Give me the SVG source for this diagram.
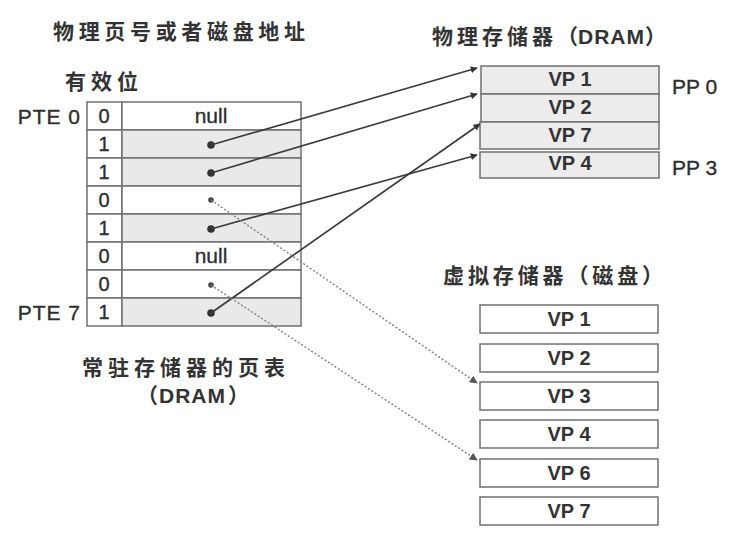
<svg xmlns="http://www.w3.org/2000/svg" width="742" height="537" viewBox="0 0 742 537">
<defs>
<style>
.cjk{font-family:"Noto Sans CJK SC","Noto Sans",sans-serif;font-size:21px;fill:#333;font-weight:bold}
.lat{font-family:"Liberation Sans",Arial,sans-serif;font-size:20px;fill:#2e2e2e;stroke:#2e2e2e;stroke-width:0.35}
.big{font-size:21px}
.lb{font-family:"Liberation Sans",Arial,sans-serif;font-weight:bold}
.vp{font-family:"Liberation Sans",Arial,sans-serif;font-size:20px;fill:#333;text-anchor:middle;font-weight:bold}
.cell{fill:#fff;stroke:#707070;stroke-width:1.5}
.shade{fill:#e9e9e9;stroke:#707070;stroke-width:1.5}
.mem{fill:#ececec;stroke:#707070;stroke-width:1.5}
.disk{fill:#fff;stroke:#707070;stroke-width:1.5}
.ptr{stroke:#3c3c3c;stroke-width:1.7;fill:none}
.dptr{stroke:#808080;stroke-width:1.4;fill:none;stroke-dasharray:2 2}
</style>
<marker id="ah" viewBox="0 0 10 10" refX="9" refY="5" markerWidth="7" markerHeight="7" orient="auto" markerUnits="userSpaceOnUse"><path d="M0,0 L10,5 L0,10 z" fill="#333"/></marker>
<marker id="ahd" viewBox="0 0 10 10" refX="9" refY="5" markerWidth="8" markerHeight="8" orient="auto" markerUnits="userSpaceOnUse"><path d="M0,0 L10,5 L0,10 z" fill="#555"/></marker>
</defs>
<rect width="742" height="537" fill="#fff"/>

<g id="labels">
<text class="cjk" x="53" y="39" textLength="252" lengthAdjust="spacing">物理页号或者磁盘地址</text>
<text class="cjk" x="65" y="89" textLength="73" lengthAdjust="spacing">有效位</text>
<text class="cjk" x="82" y="375" textLength="203" lengthAdjust="spacing">常驻存储器的页表</text>
<text class="cjk" x="137" y="403">（<tspan class="lb" x="159" letter-spacing="1">DRAM</tspan><tspan x="228">）</tspan></text>
<text class="cjk" x="432" y="44"><tspan letter-spacing="4">物理存储器</tspan>（<tspan class="lb" letter-spacing="1">DRAM</tspan>）</text>
<text class="cjk" x="443" y="283" textLength="220" lengthAdjust="spacing">虚拟存储器（磁盘）</text>
<text class="lat big" x="81" y="123.5" text-anchor="end" letter-spacing="1">PTE 0</text>
<text class="lat big" x="81" y="319.5" text-anchor="end" letter-spacing="1">PTE 7</text>
</g>

<g id="page-table">
<g id="pte0"><rect class="cell" x="87" y="102" width="35" height="28"/><rect class="cell" x="122" y="102" width="179" height="28"/><text class="lat" x="104" y="123" text-anchor="middle">0</text><text class="lat big" x="211" y="123" text-anchor="middle">null</text></g>
<g id="pte1"><rect class="cell" x="87" y="130" width="35" height="28"/><rect class="shade" x="122" y="130" width="179" height="28"/><text class="lat" x="104" y="151" text-anchor="middle">1</text><circle cx="211" cy="145" r="3.8" fill="#333"/></g>
<g id="pte2"><rect class="cell" x="87" y="158" width="35" height="28"/><rect class="shade" x="122" y="158" width="179" height="28"/><text class="lat" x="104" y="179" text-anchor="middle">1</text><circle cx="211" cy="173" r="3.8" fill="#333"/></g>
<g id="pte3"><rect class="cell" x="87" y="186" width="35" height="28"/><rect class="cell" x="122" y="186" width="179" height="28"/><text class="lat" x="104" y="207" text-anchor="middle">0</text><circle cx="211" cy="200" r="2.8" fill="#444"/></g>
<g id="pte4"><rect class="cell" x="87" y="214" width="35" height="28"/><rect class="shade" x="122" y="214" width="179" height="28"/><text class="lat" x="104" y="235" text-anchor="middle">1</text><circle cx="211" cy="229" r="3.8" fill="#333"/></g>
<g id="pte5"><rect class="cell" x="87" y="242" width="35" height="28"/><rect class="cell" x="122" y="242" width="179" height="28"/><text class="lat" x="104" y="263" text-anchor="middle">0</text><text class="lat big" x="211" y="263" text-anchor="middle">null</text></g>
<g id="pte6"><rect class="cell" x="87" y="270" width="35" height="28"/><rect class="cell" x="122" y="270" width="179" height="28"/><text class="lat" x="104" y="291" text-anchor="middle">0</text><circle cx="211" cy="285" r="2.8" fill="#444"/></g>
<g id="pte7"><rect class="cell" x="87" y="298" width="35" height="28"/><rect class="shade" x="122" y="298" width="179" height="28"/><text class="lat" x="104" y="319" text-anchor="middle">1</text><circle cx="211" cy="313" r="3.8" fill="#333"/></g>
</g>

<g id="physical-memory">
<g id="pp0"><rect class="mem" x="481" y="66" width="178" height="28"/><text class="vp" x="570" y="86">VP 1</text></g>
<g id="pp1"><rect class="mem" x="481" y="94" width="178" height="28"/><text class="vp" x="570" y="114">VP 2</text></g>
<g id="pp2"><rect class="mem" x="480" y="122" width="179" height="27"/><text class="vp" x="570" y="142">VP 7</text></g>
<g id="pp3"><rect class="mem" x="480" y="152" width="179" height="26"/><text class="vp" x="570" y="170">VP 4</text></g>
<text class="lat big" x="672" y="94">PP 0</text>
<text class="lat big" x="672" y="175">PP 3</text>
</g>

<g id="virtual-memory">
<g id="d1"><rect class="disk" x="480" y="305" width="178" height="28"/><text class="vp" x="569" y="326">VP 1</text></g>
<g id="d2"><rect class="disk" x="480" y="344" width="178" height="28"/><text class="vp" x="569" y="365">VP 2</text></g>
<g id="d3"><rect class="disk" x="480" y="382" width="178" height="28"/><text class="vp" x="569" y="403">VP 3</text></g>
<g id="d4"><rect class="disk" x="480" y="420" width="178" height="28"/><text class="vp" x="569" y="441">VP 4</text></g>
<g id="d6"><rect class="disk" x="480" y="459" width="178" height="28"/><text class="vp" x="569" y="480">VP 6</text></g>
<g id="d7"><rect class="disk" x="480" y="497" width="178" height="28"/><text class="vp" x="569" y="518">VP 7</text></g>
</g>

<g id="connectors">
<line class="ptr" x1="211" y1="145" x2="477" y2="68" marker-end="url(#ah)"/>
<line class="ptr" x1="211" y1="173" x2="477" y2="94" marker-end="url(#ah)"/>
<line class="ptr" x1="211" y1="229" x2="477" y2="155" marker-end="url(#ah)"/>
<line class="ptr" x1="211" y1="313" x2="480" y2="124" marker-end="url(#ah)"/>
<line class="dptr" x1="211" y1="200" x2="477" y2="383" marker-end="url(#ahd)"/>
<line class="dptr" x1="211" y1="285" x2="477" y2="460" marker-end="url(#ahd)"/>
</g>
</svg>
